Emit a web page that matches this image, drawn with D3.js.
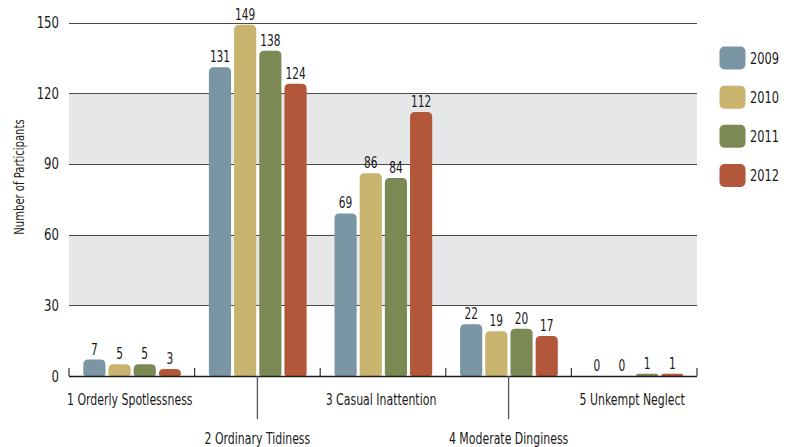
<!DOCTYPE html>
<html>
<head>
<meta charset="utf-8">
<script src="https://cdn.jsdelivr.net/npm/d3@7"></script>
<style>
  html, body { margin: 0; padding: 0; background: #fff; }
  text { font-family: "DejaVu Sans Condensed", "DejaVu Sans", sans-serif; fill: #1a1a1a; }
</style>
</head>
<body>
<svg id="chart" width="791" height="447"></svg>
<script>
const categories = ["1 Orderly Spotlessness", "2 Ordinary Tidiness", "3 Casual Inattention", "4 Moderate Dinginess", "5 Unkempt Neglect"];
const years = ["2009", "2010", "2011", "2012"];
const values2009 = [7, 131, 69, 22, 0];
const values2010 = [5, 149, 86, 19, 0];
const values2011 = [5, 138, 84, 20, 1];
const values2012 = [3, 124, 112, 17, 1];
const yTicks = [0, 30, 60, 90, 120, 150];
const colors = ["#7a95a4", "#c8b46e", "#7c8955", "#b3573a"];
const yTitle = "Number of Participants";

const seriesValues = [values2009, values2010, values2011, values2012];

const svg = d3.select("#chart");
const pLeft = 69, pRight = 697, pTop = 22.5, pBottom = 376;

const y = d3.scaleLinear().domain([0, 150]).range([pBottom, pTop]);
const x0 = d3.scaleBand().domain(categories).range([pLeft, pRight]).padding(0);
const x1 = d3.scaleBand().domain(years).range([14.3, 112]).paddingInner(0.12).paddingOuter(0);
const color = d3.scaleOrdinal().domain(years).range(colors);

function at(x, yy, sx) { return `translate(${x},${yy}) scale(${sx},1)`; }

// grey bands
const bands = [[30, 60], [90, 120]];
svg.append("g").selectAll("rect").data(bands).join("rect")
  .attr("x", pLeft).attr("width", pRight - pLeft)
  .attr("y", d => y(d[1])).attr("height", d => y(d[0]) - y(d[1]))
  .attr("fill", "#e6e7e9");

// gridlines
svg.append("g").selectAll("line").data(yTicks.filter(t => t > 0)).join("line")
  .attr("x1", pLeft).attr("x2", pRight)
  .attr("y1", d => Math.round(y(d)) + 0.5).attr("y2", d => Math.round(y(d)) + 0.5)
  .attr("stroke", "#4a4a4a").attr("stroke-width", 1);

// y tick labels
svg.append("g").selectAll("text").data(yTicks).join("text")
  .attr("transform", d => at(59, y(d), 0.84)).attr("dy", "0.36em")
  .attr("text-anchor", "end").attr("font-size", 15.5)
  .text(d => d);

// y title
svg.append("text")
  .attr("transform", `translate(24,177) rotate(-90) scale(0.765,1)`)
  .attr("text-anchor", "middle").attr("font-size", 14.6)
  .text(yTitle);

// bars
function barPath(x, yTop, w, h) {
  const r = Math.min(5, h, w / 2);
  const rb = Math.min(2, h / 2);
  const yb = yTop + h;
  return `M${x},${yb - rb} L${x},${yTop + r} Q${x},${yTop} ${x + r},${yTop} L${x + w - r},${yTop} Q${x + w},${yTop} ${x + w},${yTop + r} L${x + w},${yb - rb} Q${x + w},${yb} ${x + w - rb},${yb} L${x + rb},${yb} Q${x},${yb} ${x},${yb - rb} Z`;
}

const barData = [];
categories.forEach((c, ci) => {
  years.forEach((yr, si) => {
    barData.push({ cat: c, year: yr, value: seriesValues[si][ci] });
  });
});

svg.append("g").selectAll("path").data(barData.filter(d => d.value > 0)).join("path")
  .attr("d", d => {
    const bx = x0(d.cat) + x1(d.year);
    const yt = y(d.value);
    return barPath(bx, yt, x1.bandwidth(), pBottom - yt);
  })
  .attr("fill", d => color(d.year));

// value labels
svg.append("g").selectAll("text").data(barData).join("text")
  .attr("transform", d => at(x0(d.cat) + x1(d.year) + x1.bandwidth() / 2, y(d.value) - 5, 0.76))
  .attr("text-anchor", "middle").attr("font-size", 15.5)
  .text(d => d.value);

// x axis line
svg.append("line")
  .attr("x1", pLeft).attr("x2", pRight)
  .attr("y1", pBottom + 0.5).attr("y2", pBottom + 0.5)
  .attr("stroke", "#1a1a1a").attr("stroke-width", 1.5);

// boundary ticks
const boundaries = categories.map(c => x0(c)).concat([pRight]);
svg.append("g").selectAll("line").data(boundaries).join("line")
  .attr("x1", d => d).attr("x2", d => d)
  .attr("y1", pBottom - 8).attr("y2", pBottom)
  .attr("stroke", "#333").attr("stroke-width", 1.2);

// category labels
const catG = svg.append("g");
categories.forEach((c, i) => {
  const cx = x0(c) + x0.bandwidth() / 2;
  if (i % 2 === 1) {
    catG.append("line")
      .attr("x1", cx).attr("x2", cx)
      .attr("y1", pBottom).attr("y2", 419)
      .attr("stroke", "#555").attr("stroke-width", 1.3);
    catG.append("text")
      .attr("transform", at(cx, 438, 0.76)).attr("dy", "0.36em")
      .attr("text-anchor", "middle").attr("font-size", 16)
      .text(c);
  } else {
    catG.append("text")
      .attr("transform", at(cx - 2, 399, 0.76)).attr("dy", "0.36em")
      .attr("text-anchor", "middle").attr("font-size", 16)
      .text(c);
  }
});

// legend
const legend = svg.append("g");
const legendY = d3.scalePoint().domain(years).range([58, 175.5]);
legend.selectAll("rect").data(years).join("rect")
  .attr("x", 719.5).attr("y", d => legendY(d) - 11.5)
  .attr("width", 26).attr("height", 23).attr("rx", 5)
  .attr("fill", d => color(d));
legend.selectAll("text").data(years).join("text")
  .attr("transform", d => at(750, legendY(d), 0.82)).attr("dy", "0.36em")
  .attr("font-size", 15.5)
  .text(d => d);
</script>
</body>
</html>
